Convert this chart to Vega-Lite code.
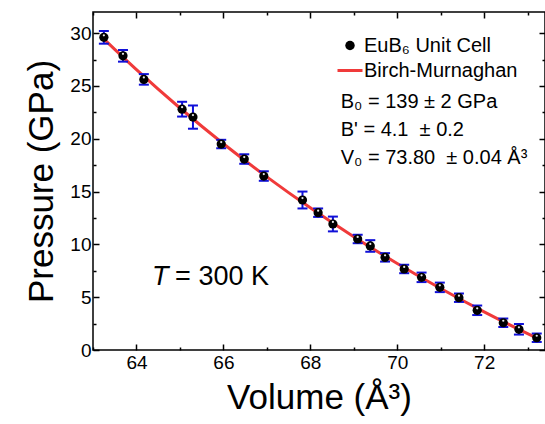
{
  "$schema": "https://vega.github.io/schema/vega-lite/v6.json",
  "width": 452,
  "height": 338,
  "autosize": {"type": "none"},
  "padding": {"left": 93, "top": 12, "right": 0, "bottom": 74},
  "background": "white",
  "config": {
    "font": "Liberation Sans",
    "view": {"stroke": "black", "strokeWidth": 1.5},
    "axis": {
      "domain": false, "grid": false, "tickColor": "black", "tickWidth": 1.5,
      "labelColor": "black", "titleColor": "black",
      "labelFont": "Liberation Sans", "titleFont": "Liberation Sans",
      "labelFontSize": 19, "titleFontSize": 35, "titleFontWeight": "normal",
      "labelOverlap": false, "labelFlush": false
    }
  },
  "datasets": {
    "obs": [
      {"v": 63.25, "p": 29.6, "e": 0.6},
      {"v": 63.69, "p": 27.85, "e": 0.55},
      {"v": 64.17, "p": 25.62, "e": 0.5},
      {"v": 65.05, "p": 22.8, "e": 0.7},
      {"v": 65.30, "p": 22.05, "e": 1.1},
      {"v": 65.95, "p": 19.5, "e": 0.4},
      {"v": 66.48, "p": 18.08, "e": 0.45},
      {"v": 66.93, "p": 16.47, "e": 0.45},
      {"v": 67.82, "p": 14.2, "e": 0.8},
      {"v": 68.18, "p": 13.0, "e": 0.4},
      {"v": 68.52, "p": 11.93, "e": 0.7},
      {"v": 69.09, "p": 10.51, "e": 0.4},
      {"v": 69.38, "p": 9.85, "e": 0.55},
      {"v": 69.72, "p": 8.77, "e": 0.4},
      {"v": 70.16, "p": 7.67, "e": 0.4},
      {"v": 70.56, "p": 6.88, "e": 0.45},
      {"v": 70.98, "p": 5.93, "e": 0.45},
      {"v": 71.42, "p": 4.95, "e": 0.4},
      {"v": 71.84, "p": 3.76, "e": 0.45},
      {"v": 72.44, "p": 2.58, "e": 0.4},
      {"v": 72.80, "p": 1.96, "e": 0.5},
      {"v": 73.21, "p": 1.16, "e": 0.4}
    ],
    "fit": [
      {"v": 63.2, "p": 29.64},
      {"v": 63.5, "p": 28.46},
      {"v": 64.0, "p": 26.54},
      {"v": 65.0, "p": 22.91},
      {"v": 66.0, "p": 19.53},
      {"v": 67.0, "p": 16.39},
      {"v": 68.0, "p": 13.46},
      {"v": 69.0, "p": 10.73},
      {"v": 70.0, "p": 8.19},
      {"v": 71.0, "p": 5.82},
      {"v": 72.0, "p": 3.61},
      {"v": 73.0, "p": 1.55},
      {"v": 73.25, "p": 1.06}
    ],
    "one": [{}]
  },
  "resolve": {"axis": {"x": "independent", "y": "independent"}},
  "layer": [
    {
      "data": {"name": "fit"},
      "mark": {"type": "line", "strokeWidth": 3, "interpolate": "monotone"},
      "encoding": {
        "x": {"field": "v", "type": "quantitative",
          "scale": {"domain": [63, 73.4], "nice": false, "zero": false},
          "axis": {"orient": "bottom", "title": "Volume (Å³)",
            "values": [63, 64, 65, 66, 67, 68, 69, 70, 71, 72, 73],
            "labelExpr": "datum.value % 2 === 0 ? datum.label : ''",
            "tickSize": {"condition": {"test": "datum.value % 2 === 0", "value": -6}, "value": -3},
            "labelPadding": 9, "titlePadding": 5}},
        "y": {"field": "p", "type": "quantitative",
          "scale": {"domain": [0, 32], "nice": false, "zero": false},
          "axis": {"orient": "left", "title": "Pressure (GPa)",
            "values": [0, 2.5, 5, 7.5, 10, 12.5, 15, 17.5, 20, 22.5, 25, 27.5, 30],
            "labelExpr": "datum.value % 5 === 0 ? datum.label : ''",
            "tickSize": {"condition": {"test": "datum.value % 5 === 0", "value": -6}, "value": -3},
            "labelPadding": 8, "titlePadding": 10}},
        "color": {"datum": "Birch-Murnaghan", "type": "nominal",
          "scale": {"domain": ["EuB₆ Unit Cell", "Birch-Murnaghan"], "range": ["black", "#f03a3a"]},
          "legend": {
            "orient": "none", "legendX": 247, "legendY": 23.5, "title": null,
            "symbolSize": 625, "labelFontSize": 20, "labelFont": "Liberation Sans", "labelColor": "black",
            "labelOffset": 4, "rowPadding": 5, "padding": 0,
            "encode": {"symbols": {"update": {
              "shape": {"signal": "datum.value === 'Birch-Murnaghan' ? 'stroke' : 'circle'"},
              "size": {"signal": "datum.value === 'Birch-Murnaghan' ? 625 : 90"},
              "fill": {"signal": "datum.value === 'Birch-Murnaghan' ? 'transparent' : 'black'"},
              "stroke": {"signal": "datum.value === 'Birch-Murnaghan' ? '#f03a3a' : 'black'"},
              "strokeWidth": {"signal": "datum.value === 'Birch-Murnaghan' ? 3 : 0"},
              "opacity": {"value": 1}
            }}}
          }}
      }
    },
    {
      "data": {"name": "obs"},
      "mark": {"type": "errorbar", "color": "#1010d8", "thickness": 2, "opacity": 1,
        "rule": {"opacity": 1, "color": "#1010d8"},
        "ticks": {"size": 10, "thickness": 2, "color": "#1010d8", "opacity": 1}},
      "encoding": {
        "x": {"field": "v", "type": "quantitative", "axis": null},
        "y": {"field": "p", "type": "quantitative", "axis": null},
        "yError": {"field": "e"}
      }
    },
    {
      "data": {"name": "obs"},
      "mark": {"type": "point", "filled": true, "size": 85, "opacity": 1},
      "encoding": {
        "x": {"field": "v", "type": "quantitative",
          "axis": {"orient": "top", "title": null, "labels": false,
            "values": [63, 64, 65, 66, 67, 68, 69, 70, 71, 72, 73],
            "tickSize": {"condition": {"test": "datum.value % 2 === 0", "value": -6}, "value": -3}}},
        "y": {"field": "p", "type": "quantitative",
          "axis": {"orient": "right", "title": null, "labels": false,
            "values": [0, 2.5, 5, 7.5, 10, 12.5, 15, 17.5, 20, 22.5, 25, 27.5, 30],
            "tickSize": {"condition": {"test": "datum.value % 5 === 0", "value": -6}, "value": -3}}},
        "color": {"datum": "EuB₆ Unit Cell", "type": "nominal"}
      }
    },
    {
      "data": {"name": "obs"},
      "mark": {"type": "point", "filled": true, "size": 5, "color": "white", "opacity": 0.9, "yOffset": -2},
      "encoding": {
        "x": {"field": "v", "type": "quantitative", "axis": null},
        "y": {"field": "p", "type": "quantitative", "axis": null}
      }
    },
    {
      "data": {"name": "one"},
      "mark": {"type": "text", "align": "left", "baseline": "middle", "fontSize": 20, "lineHeight": 28, "color": "black",
        "text": ["B₀ = 139 ± 2 GPa", "B' = 4.1\u00a0 ± 0.2", "V₀ = 73.80\u00a0 ± 0.04 Å³"]},
      "encoding": {
        "x": {"datum": 68.70, "type": "quantitative", "axis": null},
        "y": {"datum": 23.48, "type": "quantitative", "axis": null}
      }
    },
    {
      "data": {"name": "one"},
      "mark": {"type": "text", "align": "left", "baseline": "middle", "fontSize": 27, "fontStyle": "italic", "color": "black", "text": "T"},
      "encoding": {
        "x": {"datum": 64.36, "type": "quantitative", "axis": null},
        "y": {"datum": 6.91, "type": "quantitative", "axis": null}
      }
    },
    {
      "data": {"name": "one"},
      "mark": {"type": "text", "align": "left", "baseline": "middle", "fontSize": 27, "color": "black", "text": "= 300 K", "dx": 23},
      "encoding": {
        "x": {"datum": 64.36, "type": "quantitative", "axis": null},
        "y": {"datum": 6.91, "type": "quantitative", "axis": null}
      }
    }
  ]
}
